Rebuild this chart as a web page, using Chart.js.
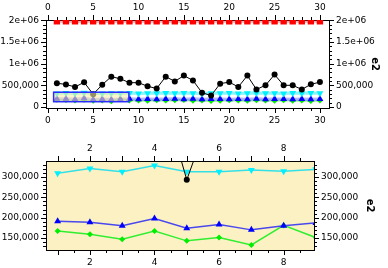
<!DOCTYPE html>
<html>
<head>
<meta charset="utf-8">
<script src="https://cdn.jsdelivr.net/npm/chart.js@4/dist/chart.umd.min.js"></script>
<style>
  body { margin: 0; background: #fff; }
  canvas { position: absolute; left: 0; }
</style>
</head>
<body>
<canvas id="top" width="388" height="130" style="top:0"></canvas>
<canvas id="bottom" width="388" height="138" style="top:130px"></canvas>
<script>
// data
var xs = [1,2,3,4,5,6,7,8,9,10,11,12,13,14,15,16,17,18,19,20,21,22,23,24,25,26,27,28,29,30];
var redVals = [1980000,1980000,1980000,1980000,1980000,1980000,1980000,1980000,1980000,1980000,
               1980000,1980000,1980000,1980000,1980000,1980000,1980000,1980000,1980000,1980000,
               1980000,1980000,1980000,1980000,1980000,1980000,1980000,1980000,1980000,1980000];
var blackVals = [548000,520000,460000,570000,293000,514000,700000,650000,560000,560000,
                 477000,426000,700000,590000,724000,612000,330000,262000,538000,574000,
                 462000,724000,404000,500000,747000,500000,500000,404000,522000,574000];
var cyanVals = [309000,321000,313000,328000,313000,313000,317000,314000,319000,312000,
                318000,315000,320000,314000,322000,316000,311000,318000,315000,320000,
                313000,317000,321000,314000,318000,312000,319000,316000,320000,315000];
var blueVals = [191000,189000,180000,198000,174000,183000,170000,180000,187000,178000,
                185000,176000,182000,188000,179000,190000,175000,183000,186000,177000,
                184000,180000,189000,176000,182000,185000,178000,183000,180000,184000];
var greenVals = [167000,159000,147000,167000,143000,151000,133000,181000,151000,148000,
                 140000,155000,146000,152000,160000,142000,150000,138000,145000,155000,
                 149000,141000,153000,147000,140000,152000,145000,150000,139000,148000];

// tick values / labels
var topXTicks = [0,5,10,15,20,25,30];
var topYTicks = [0,500000,1000000,1500000,2000000];
var topYLabels = ['0','500,000','1e+06','1.5e+06','2e+06'];
var botXTicks = [2,4,6,8];
var botYTicks = [150000,200000,250000,300000];
var botYLabels = ['150,000','200,000','250,000','300,000'];

// zoomed region (shown as box on top, as range of bottom)
var zoomX = [0.64, 8.94];
var zoomY = [120500, 339300];

Chart.defaults.font.family = 'DejaVu Sans';
Chart.defaults.font.size = 9;
Chart.defaults.color = '#000';

function pts(vals) { return vals.map(function (v, i) { return {x: xs[i], y: v}; }); }
function range(a, b, step) { var r = []; for (var v = a; v <= b + 1e-9; v += step) r.push(+v.toFixed(4)); return r; }

var tickMarks = {
  id: 'tickMarks',
  afterDraw: function (chart, args, opts) {
    var ctx = chart.ctx, a = chart.chartArea;
    ctx.save();
    ctx.strokeStyle = '#000';
    ctx.lineWidth = 1;
    opts.axes.forEach(function (ax) {
      var s = chart.scales[ax.id];
      [[ax.major, 5], [ax.minor, 3]].forEach(function (pair) {
        pair[0].forEach(function (v) {
          if (v < s.min || v > s.max) return;
          var p = Math.round(s.getPixelForValue(v)) + 0.5;
          ctx.beginPath();
          if (s.position === 'left') { ctx.moveTo(a.left, p); ctx.lineTo(a.left - pair[1], p); }
          if (s.position === 'right') { ctx.moveTo(a.right, p); ctx.lineTo(a.right + pair[1], p); }
          if (s.position === 'top') { ctx.moveTo(p, a.top); ctx.lineTo(p, a.top - pair[1]); }
          if (s.position === 'bottom') { ctx.moveTo(p, a.bottom); ctx.lineTo(p, a.bottom + pair[1]); }
          ctx.stroke();
        });
      });
    });
    ctx.restore();
  }
};

var zoomBox = {
  id: 'zoomBox',
  afterDatasetsDraw: function (chart) {
    var ctx = chart.ctx, sx = chart.scales.x, sy = chart.scales.y;
    var x0 = sx.getPixelForValue(zoomX[0]), x1 = sx.getPixelForValue(zoomX[1]);
    var y0 = sy.getPixelForValue(zoomY[1]), y1 = sy.getPixelForValue(zoomY[0]);
    ctx.save();
    ctx.fillStyle = 'rgba(250,236,170,0.6)';
    ctx.fillRect(x0, y0, x1 - x0, y1 - y0);
    ctx.strokeStyle = '#2b2bff';
    ctx.lineWidth = 1.5;
    ctx.strokeRect(x0, y0, x1 - x0, y1 - y0);
    ctx.restore();
  }
};

var bgFill = {
  id: 'bgFill',
  beforeDraw: function (chart, args, opts) {
    if (!opts.color) return;
    var a = chart.chartArea, ctx = chart.ctx;
    ctx.save();
    ctx.fillStyle = opts.color;
    ctx.fillRect(a.left, a.top, a.right - a.left, a.bottom - a.top);
    ctx.restore();
  }
};

function axis(pos, min, max, ticks, labels, size, extra) {
  var o = {
    type: 'linear',
    position: pos,
    min: min,
    max: max,
    grid: { display: false, drawTicks: false },
    border: { display: true, color: '#000', width: 1 },
    ticks: {
      autoSkip: false,
      maxRotation: 0,
      padding: 7,
      callback: function (v, i) { return labels ? labels[i] : String(v); }
    },
    afterBuildTicks: function (s) { s.ticks = ticks.map(function (v) { return {value: v}; }); },
    afterFit: function (s) {
      if (pos === 'left' || pos === 'right') s.width = size; else s.height = size;
    }
  };
  if (extra) Object.assign(o, extra);
  return o;
}

function e2Title(pad) {
  return { title: { display: true, text: 'e2', font: { weight: 'bold', size: 10 }, padding: { top: pad, bottom: 0 } } };
}

function datasets(top) {
  return [
    { label: 'red', data: pts(redVals), borderColor: top ? 'rgba(255,0,0,0.3)' : '#ff3030', borderWidth: top ? 3 : 1.5,
      pointStyle: 'rect', pointRadius: 4.5, backgroundColor: '#ff0000', pointBorderColor: '#ff0000', pointBorderWidth: 0 },
    { label: 'black', data: pts(blackVals), borderColor: '#000', borderWidth: 1,
      pointStyle: 'circle', pointRadius: 3, backgroundColor: '#000', pointBorderColor: '#000', pointBorderWidth: 0 },
    { label: 'cyan', data: pts(cyanVals), borderColor: top ? 'rgba(0,230,240,0.45)' : '#33e0e8', borderWidth: top ? 3 : 1.5,
      pointStyle: 'triangle', rotation: 180, pointRadius: 4, backgroundColor: '#00f0ff', pointBorderColor: '#00f0ff', pointBorderWidth: 0 },
    { label: 'blue', data: pts(blueVals), borderColor: top ? 'rgba(40,40,255,0.35)' : '#4848ee', borderWidth: top ? 3 : 1.5,
      pointStyle: 'triangle', pointRadius: 4, backgroundColor: '#0000ff', pointBorderColor: '#0000ff', pointBorderWidth: 0 },
    { label: 'green', data: pts(greenVals), borderColor: top ? 'rgba(0,230,0,0.4)' : '#30ee30', borderWidth: top ? 2 : 1.5,
      pointStyle: 'rectRot', pointRadius: 3, backgroundColor: '#00ee00', pointBorderColor: '#00ee00', pointBorderWidth: 0 }
  ];
}

var topChart = new Chart(document.getElementById('top'), {
  type: 'line',
  data: { datasets: datasets(true) },
  options: {
    animation: false,
    responsive: false,
    devicePixelRatio: 1,
    layout: { padding: 0 },
    scales: {
      x: axis('bottom', -0.2, 31, topXTicks, null, 22),
      x2: axis('top', -0.2, 31, topXTicks, null, 20),
      y: axis('left', -25000, 2010000, topYTicks, topYLabels, 46),
      y2: axis('right', -25000, 2010000, topYTicks, topYLabels, 59, e2Title(7))
    },
    plugins: {
      legend: { display: false },
      tooltip: { enabled: false },
      tickMarks: { axes: [
        { id: 'x', major: topXTicks, minor: range(0, 30, 1) },
        { id: 'x2', major: topXTicks, minor: range(0, 30, 1) },
        { id: 'y', major: topYTicks, minor: range(0, 2000000, 100000) },
        { id: 'y2', major: topYTicks, minor: range(0, 2000000, 100000) }
      ] }
    }
  },
  plugins: [tickMarks, zoomBox]
});

var botChart = new Chart(document.getElementById('bottom'), {
  type: 'line',
  data: { datasets: datasets(false) },
  options: {
    animation: false,
    responsive: false,
    devicePixelRatio: 1,
    layout: { padding: 0 },
    scales: {
      x: axis('bottom', zoomX[0], zoomX[1], botXTicks, null, 18),
      x2: axis('top', zoomX[0], zoomX[1], botXTicks, null, 31),
      y: axis('left', zoomY[0], zoomY[1], botYTicks, botYLabels, 46),
      y2: axis('right', zoomY[0], zoomY[1], botYTicks, botYLabels, 74, e2Title(12))
    },
    plugins: {
      legend: { display: false },
      tooltip: { enabled: false },
      bgFill: { color: '#fcf1c2' },
      tickMarks: { axes: [
        { id: 'x', major: range(1, 8, 1), minor: range(1.5, 8.5, 1) },
        { id: 'x2', major: range(1, 8, 1), minor: range(1.5, 8.5, 1) },
        { id: 'y', major: botYTicks, minor: range(130000, 330000, 10000) },
        { id: 'y2', major: botYTicks, minor: range(130000, 330000, 10000) }
      ] }
    }
  },
  plugins: [bgFill, tickMarks]
});
</script>
</body>
</html>
